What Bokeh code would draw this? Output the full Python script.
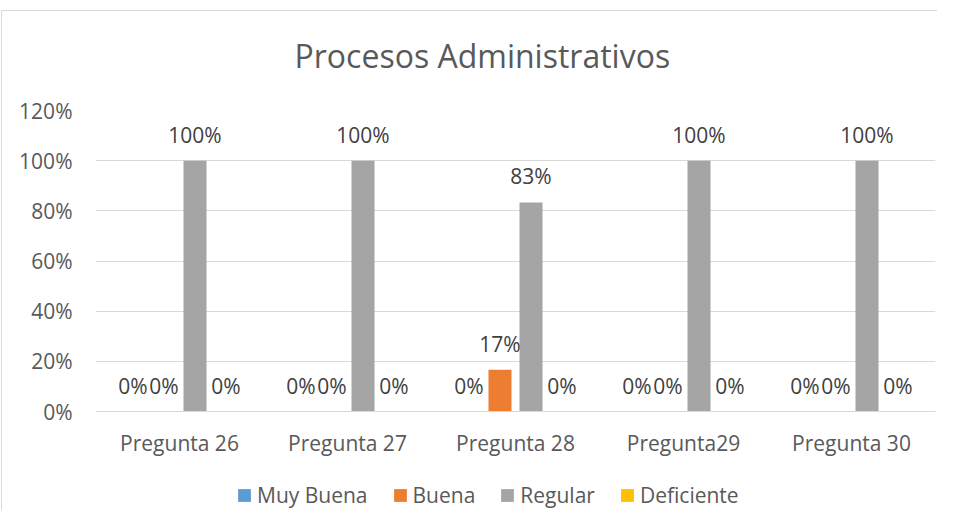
from bokeh.plotting import figure
from bokeh.layouts import column
from bokeh.models import (ColumnDataSource, FactorRange, Range1d, NumeralTickFormatter,
                          FixedTicker, LabelSet, Legend, LegendItem)
from bokeh.transform import dodge
from bokeh.core.properties import value
from bokeh.embed import file_html
from bokeh.resources import INLINE

# ---- data ----
categories = ["Pregunta 26", "Pregunta 27", "Pregunta 28", "Pregunta29", "Pregunta 30"]
series_names = ["Muy Buena", "Buena", "Regular", "Deficiente"]
muy_buena = [0.0, 0.0, 0.0, 0.0, 0.0]
buena = [0.0, 0.0, 0.1667, 0.0, 0.0]
regular = [1.0, 1.0, 0.8333, 1.0, 1.0]
deficiente = [0.0, 0.0, 0.0, 0.0, 0.0]
y_ticks = [0, 0.2, 0.4, 0.6, 0.8, 1.0, 1.2]
title_text = "Procesos Administrativos"

colors = ["#5B9BD5", "#ED7D31", "#A5A5A5", "#FFC000"]
series_values = [muy_buena, buena, regular, deficiente]
offsets = [-0.277, -0.0923, 0.0923, 0.277]
bar_w = 0.137
FONT = "Open Sans"
W = 937

p = figure(x_range=FactorRange(*categories), y_range=Range1d(0, 1.2),
           width=W, height=470, output_backend="svg", toolbar_location=None,
           min_border_left=95, min_border_right=2, min_border_top=110, min_border_bottom=59)
p.outline_line_color = None
p.background_fill_color = "white"
p.border_fill_color = None

# title
p.title.text = title_text
p.title.align = "left"
p.title.vertical_align = "top"
p.title.offset = 199
p.title.standoff = 64
p.title.text_font = FONT
p.title.text_font_size = "32px"
p.title.text_font_style = "normal"
p.title.text_color = "#595959"

# grid
p.xgrid.grid_line_color = None
p.ygrid.grid_line_color = "#D9D9D9"
p.ygrid.grid_line_width = 1

# y axis
p.yaxis.ticker = FixedTicker(ticks=y_ticks)
p.yaxis.formatter = NumeralTickFormatter(format="0%")
p.yaxis.axis_line_color = None
p.yaxis.major_tick_line_color = None
p.yaxis.minor_tick_line_color = None
p.yaxis.major_label_standoff = 17
p.yaxis.major_label_text_font = FONT
p.yaxis.major_label_text_font_size = "21px"
p.yaxis.major_label_text_color = "#595959"

# x axis
p.xaxis.axis_line_color = "#D9D9D9"
p.xaxis.major_tick_line_color = None
p.xaxis.minor_tick_line_color = None
p.xaxis.major_label_standoff = 11
p.xaxis.major_label_text_font = FONT
p.xaxis.major_label_text_font_size = "21px"
p.xaxis.major_label_text_color = "#595959"

# legend figure (separate strip below the chart)
lf = figure(x_range=Range1d(0, 1), y_range=Range1d(0, 1), width=W, height=40,
            output_backend="svg", toolbar_location=None,
            x_axis_type=None, y_axis_type=None,
            min_border_left=0, min_border_right=0, min_border_top=0, min_border_bottom=0)
lf.outline_line_color = None
lf.background_fill_color = None
lf.border_fill_color = None
lf.xgrid.grid_line_color = None
lf.ygrid.grid_line_color = None

items = []
for name, vals, col, off in zip(series_names, series_values, colors, offsets):
    src = ColumnDataSource(dict(cat=categories, val=vals,
                                lbl=[f"{round(v * 100)}%" for v in vals]))
    p.vbar(x=dodge("cat", off, range=p.x_range), top="val", width=bar_w,
           source=src, fill_color=col, line_color=None)
    labels = LabelSet(x=dodge("cat", off, range=p.x_range), y="val", text="lbl",
                      source=src, text_align="center", text_baseline="alphabetic",
                      y_offset=18, text_font=value(FONT), text_font_size="21px",
                      text_color="#404040")
    p.add_layout(labels)
    # proxy renderer (kept outside the visible range) only used for the legend swatch
    lr = lf.vbar(x=[-5], top=[0], width=0.1, fill_color=col, line_color=None)
    items.append(LegendItem(label=name, renderers=[lr]))

legend = Legend(items=items, orientation="horizontal", location=(141, 1),
                glyph_width=16, glyph_height=16, label_standoff=5, spacing=24,
                padding=0, margin=0, border_line_color=None, background_fill_alpha=0,
                label_text_font=FONT, label_text_font_size="21px",
                label_text_color="#595959", label_height=21)
lf.add_layout(legend, "center")

layout = column(p, lf, spacing=0)
layout.styles = {
    "background-color": "white",
    "background-image": "linear-gradient(#D9D9D9, #D9D9D9), linear-gradient(#D9D9D9, #D9D9D9)",
    "background-position": "1px 10px, 1px 10px",
    "background-size": "1px 100%, 100% 1px",
    "background-repeat": "no-repeat",
}

open("out.html", "w").write(file_html(layout, INLINE))
